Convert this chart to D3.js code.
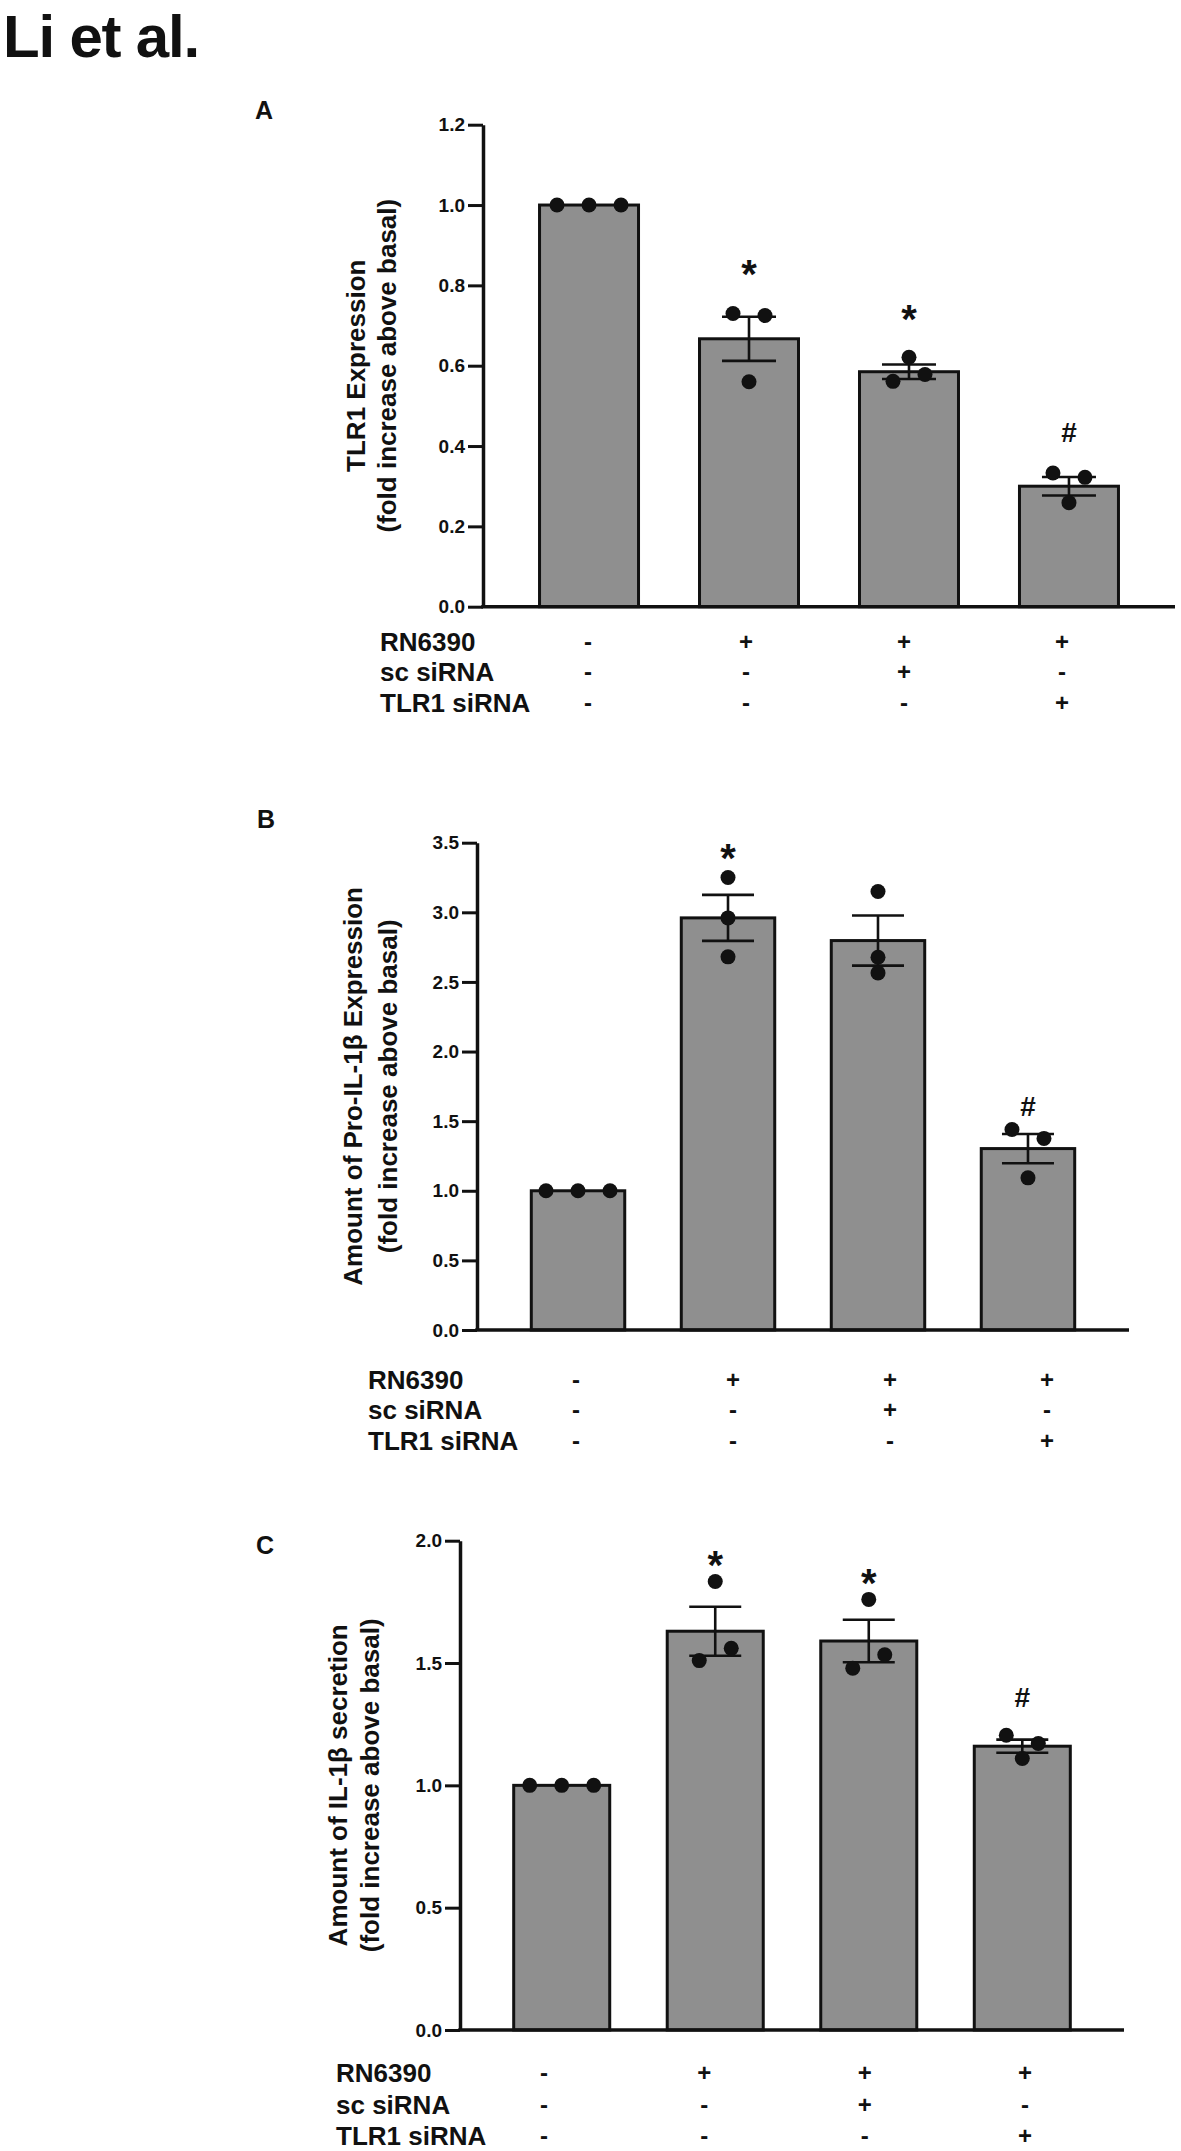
<!DOCTYPE html>
<html>
<head>
<meta charset="utf-8">
<script src="https://cdn.jsdelivr.net/npm/d3@7"></script>
<style>
  html, body { margin: 0; padding: 0; background: #fff; }
  svg { display: block; }
</style>
</head>
<body>
<svg id="chart" width="1181" height="2151"></svg>
<script>
// ---------------- DATA ----------------
const groups = ["G1", "G2", "G3", "G4"];
const conditionLabels = ["RN6390", "sc siRNA", "TLR1 siRNA"];
const conditionSigns = [
  ["-", "+", "+", "+"],
  ["-", "-", "+", "-"],
  ["-", "-", "-", "+"]
];

// Panel A: TLR1 expression
const ticksA = [0.0, 0.2, 0.4, 0.6, 0.8, 1.0, 1.2];
const meansA = [1.0, 0.667, 0.585, 0.300];
const semA = [0, 0.055, 0.018, 0.023];
const pointsA = [[1.0, 1.0, 1.0], [0.73, 0.56, 0.725], [0.561, 0.621, 0.578], [0.333, 0.259, 0.322]];
const marksA = ["", "*", "*", "#"];
const markValA = [null, 0.852, 0.74, 0.435];
const yLabelA = ["TLR1 Expression", "(fold increase above basal)"];

// Panel B: Pro-IL-1β expression
const ticksB = [0.0, 0.5, 1.0, 1.5, 2.0, 2.5, 3.0, 3.5];
const meansB = [1.0, 2.96, 2.797, 1.303];
const semB = [0, 0.165, 0.18, 0.105];
const pointsB = [[1.0, 1.0, 1.0], [3.25, 2.96, 2.68], [3.15, 2.677, 2.565], [1.44, 1.093, 1.376]];
const marksB = ["", "*", "", "#"];
const markValB = [null, 3.457, null, 1.608];
const yLabelB = ["Amount of Pro-IL-1β Expression", "(fold increase above basal)"];

// Panel C: IL-1β secretion
const ticksC = [0.0, 0.5, 1.0, 1.5, 2.0];
const meansC = [1.0, 1.63, 1.59, 1.16];
const semC = [0, 0.1, 0.087, 0.027];
const pointsC = [[1.0, 1.0, 1.0], [1.51, 1.833, 1.56], [1.479, 1.76, 1.534], [1.205, 1.11, 1.171]];
const marksC = ["", "*", "*", "#"];
const markValC = [null, 1.938, 1.863, 1.36];
const yLabelC = ["Amount of IL-1β secretion", "(fold increase above basal)"];

// ---------------- LAYOUT ----------------
const FONT = "'Liberation Sans', Arial, Helvetica, sans-serif";
const BAR_FILL = "#8f8f8f";
const INK = "#111";

const panels = [
  { letter: "A", letterX: 255, letterY: 119,
    ticks: ticksA, means: meansA, sem: semA, points: pointsA, marks: marksA, markVals: markValA, yLabel: yLabelA,
    axisX: 483, axisEnd: 1175, y0: 606.7, y1: 124.7, padInner: 0.3625, padOuter: 0.344,
    yLabelX: [365, 396], capHalf: 27,
    rowX: 380, rowY: [651, 681, 712], signRange: [588, 1062] },
  { letter: "B", letterX: 257, letterY: 828,
    ticks: ticksB, means: meansB, sem: semB, points: pointsB, marks: marksB, markVals: markValB, yLabel: yLabelB,
    axisX: 477, axisEnd: 1129, y0: 1330, y1: 842.7, padInner: 0.357, padOuter: 0.352,
    yLabelX: [362, 397], capHalf: 26,
    rowX: 368, rowY: [1389, 1419, 1450], signRange: [576, 1047] },
  { letter: "C", letterX: 256, letterY: 1554,
    ticks: ticksC, means: meansC, sem: semC, points: pointsC, marks: marksC, markVals: markValC, yLabel: yLabelC,
    axisX: 460, axisEnd: 1124, y0: 2030, y1: 1540.7, padInner: 0.355, padOuter: 0.34,
    yLabelX: [347, 379], capHalf: 26,
    rowX: 336, rowY: [2082, 2114, 2145], signRange: [544, 1025] }
];

const DOT_R = 7.5;
const SLOT = 32;

const svg = d3.select("#chart");
svg.append("rect").attr("width", 1181).attr("height", 2151).attr("fill", "#fff");

// Title
svg.append("text")
  .attr("x", 3).attr("y", 57)
  .attr("font-family", FONT).attr("font-weight", "bold").attr("font-size", 60)
  .attr("letter-spacing", -1.2)
  .attr("fill", INK)
  .text("Li et al.");

// swarm offsets: overlapping dots grouped and spread symmetrically
function swarmOffsets(vals, y) {
  const n = vals.length;
  const parent = d3.range(n);
  const find = i => parent[i] === i ? i : (parent[i] = find(parent[i]));
  for (let i = 0; i < n; i++)
    for (let j = i + 1; j < n; j++)
      if (Math.abs(y(vals[i]) - y(vals[j])) < 14) parent[find(j)] = find(i);
  const byRoot = d3.group(d3.range(n), i => find(i));
  const off = new Array(n).fill(0);
  for (const members of byRoot.values()) {
    const m = members.length;
    members.forEach((idx, k) => { off[idx] = (k - (m - 1) / 2) * SLOT; });
  }
  return off;
}

panels.forEach(p => {
  const g = svg.append("g");
  const x = d3.scaleBand().domain(groups).range([p.axisX, p.axisEnd])
    .paddingInner(p.padInner).paddingOuter(p.padOuter);
  const y = d3.scaleLinear().domain([0, d3.max(p.ticks)]).range([p.y0, p.y1]);

  // Panel letter
  g.append("text").attr("x", p.letterX).attr("y", p.letterY)
    .attr("font-family", FONT).attr("font-weight", "bold").attr("font-size", 25)
    .attr("fill", INK).text(p.letter);

  // Bars
  g.selectAll("rect.bar").data(p.means).join("rect")
    .attr("class", "bar")
    .attr("x", (d, i) => x(groups[i]) + 1.5)
    .attr("width", x.bandwidth() - 3)
    .attr("y", d => y(d))
    .attr("height", d => y(0) - y(d))
    .attr("fill", BAR_FILL)
    .attr("stroke", INK).attr("stroke-width", 3);

  // Y axis
  const yAxis = d3.axisLeft(y).tickValues(p.ticks).tickFormat(d3.format(".1f"))
    .tickSize(15).tickSizeOuter(0).tickPadding(3);
  const ag = g.append("g").attr("transform", `translate(${p.axisX},0)`).call(yAxis);
  ag.select(".domain").attr("stroke", INK).attr("stroke-width", 3.5);
  ag.selectAll(".tick line").attr("stroke", INK).attr("stroke-width", 3);
  ag.selectAll(".tick text").attr("font-family", FONT).attr("font-weight", "bold")
    .attr("font-size", 19).attr("fill", INK);

  // X axis baseline
  g.append("line").attr("x1", p.axisX - 1.75).attr("x2", p.axisEnd)
    .attr("y1", y(0)).attr("y2", y(0))
    .attr("stroke", INK).attr("stroke-width", 3.5);

  // Error bars
  p.means.forEach((m, i) => {
    if (!p.sem[i]) return;
    const cx = x(groups[i]) + x.bandwidth() / 2;
    const eg = g.append("g").attr("stroke", INK).attr("stroke-width", 2.6);
    eg.append("line").attr("x1", cx).attr("x2", cx).attr("y1", y(m - p.sem[i])).attr("y2", y(m + p.sem[i]));
    eg.append("line").attr("x1", cx - p.capHalf).attr("x2", cx + p.capHalf).attr("y1", y(m + p.sem[i])).attr("y2", y(m + p.sem[i]));
    eg.append("line").attr("x1", cx - p.capHalf).attr("x2", cx + p.capHalf).attr("y1", y(m - p.sem[i])).attr("y2", y(m - p.sem[i]));
  });

  // Dots
  p.points.forEach((vals, i) => {
    const cx = x(groups[i]) + x.bandwidth() / 2;
    const off = swarmOffsets(vals, y);
    g.selectAll(null).data(vals).join("circle")
      .attr("cx", (d, k) => cx + off[k])
      .attr("cy", d => y(d))
      .attr("r", DOT_R)
      .attr("fill", INK);
  });

  // Significance marks
  p.marks.forEach((mk, i) => {
    if (!mk) return;
    const cx = x(groups[i]) + x.bandwidth() / 2;
    const fs = mk === "*" ? 40 : 28;
    const lift = mk === "*" ? 0.58 : 0.36;
    g.append("text").attr("x", cx).attr("y", y(p.markVals[i]) + lift * fs)
      .attr("text-anchor", "middle")
      .attr("font-family", FONT).attr("font-weight", "bold").attr("font-size", fs)
      .attr("fill", INK).text(mk);
  });

  // Y label (two lines, rotated)
  const yc = (p.y0 + p.y1) / 2;
  p.yLabel.forEach((t, li) => {
    g.append("text")
      .attr("transform", `translate(${p.yLabelX[li]},${yc}) rotate(-90)`)
      .attr("text-anchor", "middle")
      .attr("font-family", FONT).attr("font-weight", "bold").attr("font-size", 26)
      .attr("fill", INK).text(t);
  });

  // Treatment table
  const sx = d3.scalePoint().domain(groups).range(p.signRange);
  conditionLabels.forEach((lab, r) => {
    g.append("text").attr("x", p.rowX).attr("y", p.rowY[r])
      .attr("font-family", FONT).attr("font-weight", "bold").attr("font-size", 26)
      .attr("fill", INK).text(lab);
    g.selectAll(null).data(conditionSigns[r]).join("text")
      .attr("x", (d, i) => sx(groups[i]))
      .attr("y", p.rowY[r] - 1)
      .attr("text-anchor", "middle")
      .attr("font-family", FONT).attr("font-weight", "bold").attr("font-size", 24)
      .attr("fill", INK).text(d => d);
  });
});
</script>
</body>
</html>
